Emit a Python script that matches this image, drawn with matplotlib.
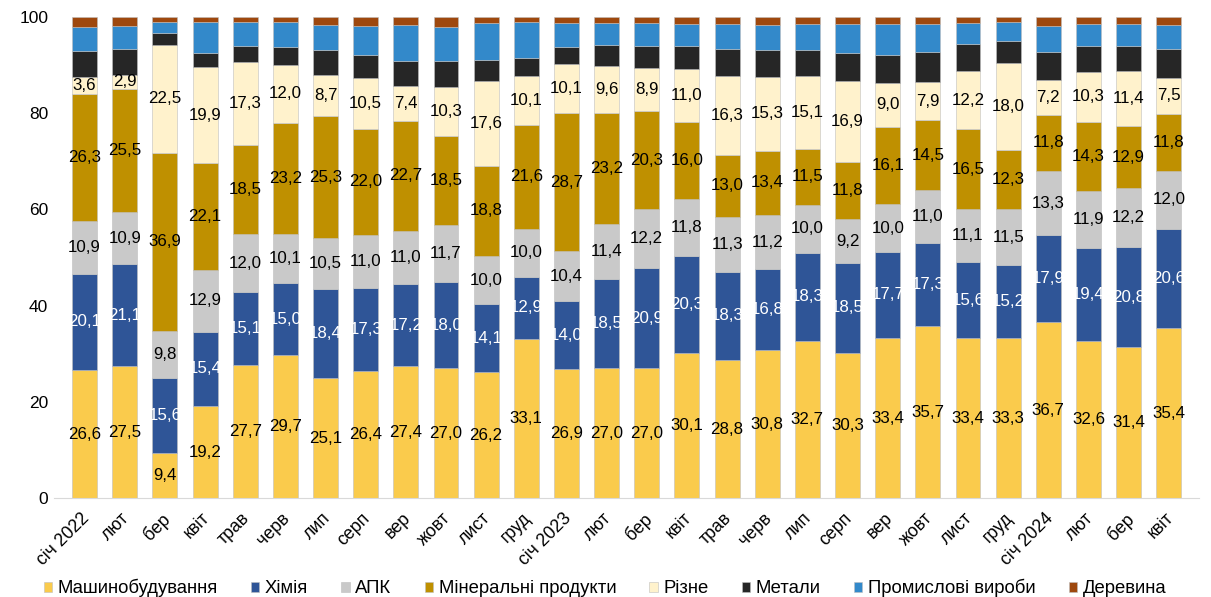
import matplotlib.pyplot as plt
import matplotlib.transforms as mtransforms
import numpy as np

# Months (x categories)
months = ["січ 2022", "лют", "бер", "квіт", "трав", "черв", "лип", "серп", "вер",
          "жовт", "лист", "груд", "січ 2023", "лют", "бер", "квіт", "трав", "черв",
          "лип", "серп", "вер", "жовт", "лист", "груд", "січ 2024", "лют", "бер", "квіт"]

# Shares by product group, %
mashyny = [26.6, 27.5, 9.4, 19.2, 27.7, 29.7, 25.1, 26.4, 27.4, 27.0, 26.2, 33.1, 26.9, 27.0,
           27.0, 30.1, 28.8, 30.8, 32.7, 30.3, 33.4, 35.7, 33.4, 33.3, 36.7, 32.6, 31.4, 35.4]
khimiia = [20.1, 21.1, 15.6, 15.4, 15.1, 15.0, 18.4, 17.3, 17.2, 18.0, 14.1, 12.9, 14.0, 18.5,
           20.9, 20.3, 18.3, 16.8, 18.3, 18.5, 17.7, 17.3, 15.6, 15.2, 17.9, 19.4, 20.8, 20.6]
apk = [10.9, 10.9, 9.8, 12.9, 12.0, 10.1, 10.5, 11.0, 11.0, 11.7, 10.0, 10.0, 10.4, 11.4,
       12.2, 11.8, 11.3, 11.2, 10.0, 9.2, 10.0, 11.0, 11.1, 11.5, 13.3, 11.9, 12.2, 12.0]
mineralni = [26.3, 25.5, 36.9, 22.1, 18.5, 23.2, 25.3, 22.0, 22.7, 18.5, 18.8, 21.6, 28.7, 23.2,
             20.3, 16.0, 13.0, 13.4, 11.5, 11.8, 16.1, 14.5, 16.5, 12.3, 11.8, 14.3, 12.9, 11.8]
rizne = [3.6, 2.9, 22.5, 19.9, 17.3, 12.0, 8.7, 10.5, 7.4, 10.3, 17.6, 10.1, 10.1, 9.6,
         8.9, 11.0, 16.3, 15.3, 15.1, 16.9, 9.0, 7.9, 12.2, 18.0, 7.2, 10.3, 11.4, 7.5]
metaly = [5.3, 5.3, 2.5, 3.0, 3.4, 3.7, 5.0, 4.8, 5.2, 5.3, 4.3, 3.7, 3.6, 4.4,
          4.6, 4.7, 5.5, 5.5, 5.4, 5.8, 5.8, 6.2, 5.6, 4.6, 5.7, 5.4, 5.2, 5.9]
promyslovi = [5.0, 4.8, 2.3, 6.5, 4.8, 5.1, 5.3, 6.1, 7.3, 7.1, 7.7, 7.4, 5.0, 4.5,
              4.7, 4.5, 5.2, 5.3, 5.4, 6.0, 6.5, 5.9, 4.2, 3.9, 5.4, 4.6, 4.6, 5.0]
derevyna = [2.2, 1.9, 1.0, 1.0, 1.2, 1.2, 1.7, 1.9, 1.7, 2.1, 1.3, 1.2, 1.3, 1.4,
            1.4, 1.6, 1.5, 1.7, 1.5, 1.5, 1.5, 1.5, 1.3, 1.2, 2.0, 1.5, 1.5, 1.8]

names = ["Машинобудування", "Хімія", "АПК", "Мінеральні продукти", "Різне",
         "Метали", "Промислові вироби", "Деревина"]
series = [mashyny, khimiia, apk, mineralni, rizne, metaly, promyslovi, derevyna]
colors = ["#FACB4C", "#2F5597", "#C9C9C9", "#BF9000", "#FFF2CC",
          "#262626", "#3389CA", "#9E480E"]
text_colors = ["black", "white", "black", "black", "black"]

plt.rcParams['font.family'] = ['Liberation Sans', 'DejaVu Sans']

fig, ax = plt.subplots(figsize=(12.11, 5.97), dpi=100)
fig.subplots_adjust(left=0.045, right=0.99, top=0.972, bottom=0.165)

x = np.arange(len(months))
bottom = np.zeros(len(months))
for i, (vals, name, col) in enumerate(zip(series, names, colors)):
    vals = np.array(vals)
    ax.bar(x, vals, width=0.62, bottom=bottom, color=col, label=name,
           edgecolor="#BFBFBF", linewidth=0.4)
    # only first five groups are labelled
    if i < 5:
        for xi, b, v in zip(x, bottom, vals):
            ax.text(xi, b + v / 2, f"{v:.1f}".replace(".", ","), ha="center",
                    va="center", fontsize=12.2, color=text_colors[i])
    bottom += vals

ax.set_ylim(0, 100)
ax.set_xlim(-0.75, len(months) - 0.25)
ax.set_yticks(range(0, 101, 20))
ax.tick_params(axis="y", length=0, labelsize=12.5, pad=4.5)
ax.tick_params(axis="x", length=0, labelsize=12.8, pad=8)
ax.set_xticks(x)
ax.set_xticklabels(months, rotation=45, ha="right", rotation_mode="anchor")
# nudge the rotated month labels a little to the left
shift = mtransforms.ScaledTranslation(-4 / 100, 0, fig.dpi_scale_trans)
for lbl in ax.get_xticklabels():
    lbl.set_transform(lbl.get_transform() + shift)

for s in ["top", "right", "left"]:
    ax.spines[s].set_visible(False)
ax.spines["bottom"].set_color("#D9D9D9")

ax.legend(loc="center", bbox_to_anchor=(0.481, -0.186), ncol=8, frameon=False,
          fontsize=13.3, handlelength=0.45, handleheight=0.45, handletextpad=0.3,
          columnspacing=1.8)

plt.savefig("out.png", dpi=100)
